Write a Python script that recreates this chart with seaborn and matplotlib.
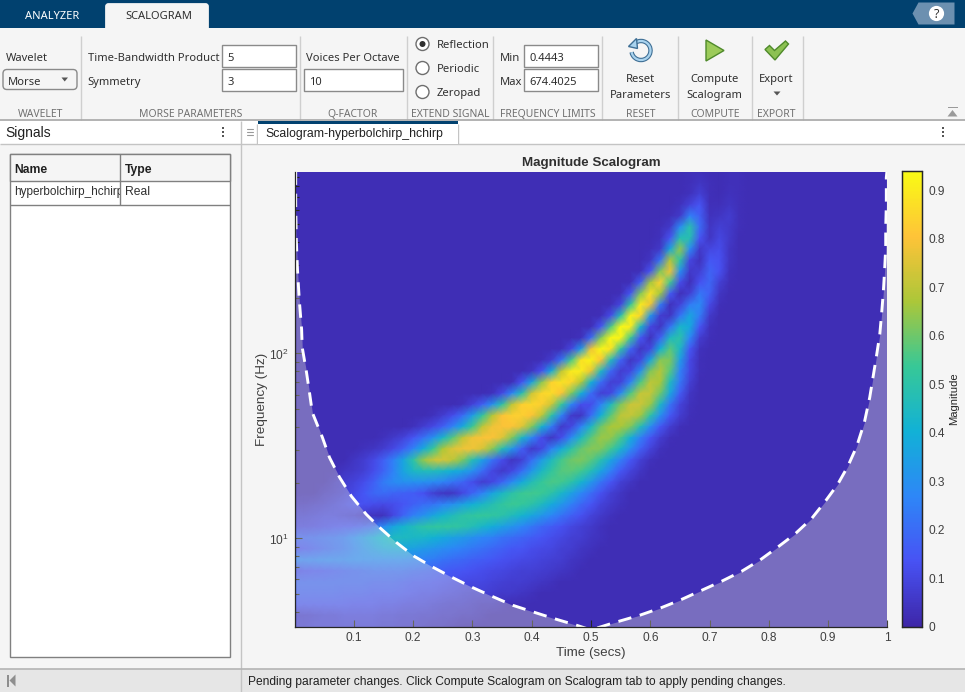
import numpy as np
import pandas as pd
import matplotlib
matplotlib.use('Agg')
import matplotlib.pyplot as plt
from matplotlib.colors import LinearSegmentedColormap
from matplotlib.patches import Rectangle, Polygon, Circle, FancyBboxPatch, Arc
from matplotlib.ticker import NullFormatter, FixedLocator
import seaborn as sns

sns.set_style('ticks')
plt.rcParams['font.family'] = ['Liberation Sans', 'DejaVu Sans']
plt.rcParams['mathtext.default'] = 'regular'

W, H = 965, 692

# axis ranges
freq_min = 3.34
freq_max = 964
background_mag = 0.025
mag_max = 0.94

x_tick_vals = [0.1, 0.2, 0.3, 0.4, 0.5, 0.6, 0.7, 0.8, 0.9, 1]
x_tick_labels = ['0.1', '0.2', '0.3', '0.4', '0.5', '0.6', '0.7', '0.8', '0.9', '1']
cbar_tick_vals = [0, 0.1, 0.2, 0.3, 0.4, 0.5, 0.6, 0.7, 0.8, 0.9]
cbar_tick_labels = ['0', '0.1', '0.2', '0.3', '0.4', '0.5', '0.6', '0.7', '0.8', '0.9']

# cone of influence
coi_time = [.002, .002, .003, .005, .008, .012, .013, .02, .025, .03, .047, .059, .076, .096,
            .121, .143, .172, .202, .233, .266, .3, .334, .368, .405, .442, .476, .5,
            .536, .582, .616, .649, .686, .72, .754, .784, .814, .843, .872, .894, .916,
            .933, .948, .961, .97, .981, .987, .99, .993, .995, .997, .997, .998, .998, .999]
coi_freq = [964, 638, 413, 284, 196, 135, 108, 80, 62.4, 48, 35.2, 27.4, 21.4, 16.9,
            13.5, 11.5, 9.5, 8.0, 7.0, 6.15, 5.43, 4.85, 4.35, 3.98, 3.65, 3.39, 3.2,
            3.48, 3.84, 4.19, 4.62, 5.23, 5.86, 6.64, 7.6, 8.93, 10.5, 12.8, 15.7, 19.6,
            24.5, 31.4, 42.4, 57.8, 95, 127, 163, 216, 277, 374, 480, 638, 893, 964]

# scalogram magnitudes estimated by eye, top row first: first column that
# differs from the background, then the values from there on
row_start = [40, 40, 40, 39, 38, 37, 37, 36, 36, 35, 34, 33, 32, 31, 30, 29, 27, 25, 24, 22, 20,
             17, 14, 12, 9, 7, 6, 5, 4, 3, 0, 0, 0, 0, 0, 0, 0, 0, 0, 0, 0, 0]
row_values = [
    [.03, .03, .025, .025, .03, .03],
    [.03, .05, .03, .025, .03, .03],
    [.04, .08, .03, .025, .04, .03],
    [.04, .09, .14, .03, .03, .05, .03],
    [.03, .06, .25, .17, .04, .05, .07, .03],
    [.03, .06, .28, .49, .2, .05, .08, .06, .03],
    [.04, .14, .48, .48, .14, .05, .1, .06],
    [.03, .06, .37, .64, .28, .06, .1, .12, .05],
    [.05, .22, .68, .51, .1, .04, .15, .13, .05],
    [.03, .14, .62, .78, .3, .06, .08, .18, .13, .04],
    [.03, .17, .66, .84, .55, .12, .03, .13, .19, .08, .03],
    [.03, .15, .62, .88, .66, .16, .03, .08, .23, .17, .05],
    [.03, .1, .52, .9, .78, .24, .04, .09, .24, .28, .11, .03],
    [.03, .12, .48, .92, .85, .32, .07, .05, .22, .37, .24, .06],
    [.03, .15, .56, .93, .9, .44, .1, .05, .22, .43, .38, .14, .04],
    [.04, .2, .62, .93, .92, .54, .15, .04, .17, .45, .5, .27, .07, .03],
    [.03, .1, .33, .78, .93, .88, .52, .18, .05, .1, .4, .58, .44, .15, .04],
    [.03, .07, .22, .55, .88, .92, .8, .47, .18, .05, .1, .36, .63, .62, .34, .11, .03],
    [.05, .13, .38, .7, .9, .9, .77, .45, .19, .07, .1, .3, .62, .69, .57, .26, .1, .03],
    [.03, .14, .36, .63, .84, .88, .85, .68, .41, .2, .08, .09, .26, .56, .7, .67, .45, .23, .08],
    [.04, .11, .27, .48, .72, .85, .86, .8, .62, .4, .2, .08, .1, .28, .56, .71, .71, .6, .37, .16, .05],
    [.04, .09, .17, .3, .5, .7, .83, .85, .83, .72, .53, .27, .12, .12, .26, .45, .62, .72, .72, .65, .44, .22, .09, .04],
    [.04, .07, .12, .2, .34, .52, .68, .8, .83, .83, .8, .7, .5, .26, .06, .05, .2, .4, .58, .7, .71, .66, .5, .3, .15, .07, .03],
    [.04, .07, .11, .17, .26, .38, .54, .7, .78, .8, .8, .75, .62, .42, .24, .06, .1, .26, .44, .6, .67, .67, .62, .47, .29, .15, .07, .03],
    [.04, .06, .09, .14, .21, .3, .43, .57, .7, .78, .8, .8, .75, .62, .44, .27, .12, .05, .12, .28, .45, .58, .65, .64, .56, .4, .25, .14, .07, .03],
    [.04, .05, .07, .11, .17, .26, .38, .53, .67, .75, .78, .78, .74, .63, .48, .32, .17, .06, .1, .25, .38, .5, .59, .63, .62, .55, .43, .29, .17, .09, .04],
    [.05, .07, .11, .17, .25, .36, .5, .64, .72, .74, .7, .62, .48, .35, .22, .12, .05, .08, .2, .33, .45, .55, .6, .62, .58, .49, .37, .25, .15, .08, .04],
    [.05, .06, .08, .12, .18, .26, .36, .44, .46, .46, .44, .4, .36, .3, .2, .1, .06, .1, .2, .32, .44, .52, .57, .58, .55, .47, .36, .25, .15, .09, .05],
    [.05, .07, .09, .12, .17, .24, .28, .3, .3, .3, .28, .26, .22, .18, .12, .07, .1, .18, .28, .38, .47, .53, .56, .55, .5, .42, .32, .22, .14, .08, .05],
    [.05, .06, .08, .11, .15, .19, .2, .18, .17, .16, .13, .08, .05, .05, .1, .18, .26, .36, .44, .5, .54, .55, .54, .5, .43, .35, .27, .2, .13, .08, .05],
    [.05, .05, .06, .07, .09, .11, .13, .13, .12, .11, .12, .14, .17, .2, .22, .26, .3, .35, .4, .44, .48, .52, .54, .53, .5, .45, .38, .32, .25, .19, .14, .09, .06, .04],
    [.08, .08, .09, .1, .1, .09, .08, .06, .04, .04, .1, .18, .25, .3, .36, .42, .46, .5, .52, .53, .52, .5, .46, .42, .37, .32, .27, .22, .17, .13, .09, .06, .04],
    [.1, .1, .11, .12, .13, .14, .15, .17, .2, .28, .36, .42, .46, .5, .52, .52, .52, .5, .47, .43, .39, .35, .31, .27, .23, .19, .16, .13, .1, .08, .06, .04],
    [.18, .18, .19, .2, .21, .23, .27, .31, .36, .41, .45, .45, .44, .43, .41, .38, .35, .33, .3, .27, .25, .22, .2, .18, .16, .14, .12, .1, .08, .07, .05, .04],
    [.13, .14, .16, .18, .2, .22, .25, .29, .32, .35, .36, .36, .35, .33, .31, .29, .27, .25, .23, .21, .19, .17, .15, .14, .12, .11, .1, .08, .07, .05, .04],
    [.25, .25, .25, .26, .26, .26, .27, .27, .27, .27, .27, .27, .26, .25, .24, .22, .2, .19, .17, .16, .15, .13, .12, .11, .1, .09, .08, .07, .05, .04],
    [.12, .13, .14, .15, .16, .17, .18, .19, .2, .2, .2, .2, .19, .18, .17, .16, .15, .14, .13, .12, .11, .1, .09, .08, .08, .07, .06, .05, .04],
    [.18, .18, .18, .18, .18, .18, .18, .18, .17, .17, .17, .16, .15, .15, .14, .13, .12, .11, .1, .1, .09, .08, .07, .07, .06, .05, .04],
    [.17, .17, .17, .17, .17, .16, .16, .16, .15, .15, .15, .14, .13, .12, .12, .11, .1, .09, .08, .08, .07, .06, .06, .05, .04],
    [.14, .14, .14, .14, .14, .14, .13, .13, .13, .12, .12, .11, .1, .1, .09, .08, .07, .07, .06, .05, .05, .04],
    [.07, .07, .08, .09, .09, .1, .1, .1, .1, .09, .09, .08, .08, .07, .07, .06, .06, .05, .05, .04],
    [.08, .08, .09, .09, .09, .09, .09, .09, .09, .08, .08, .07, .07, .06, .05, .05, .04],
]

mag = np.full((len(row_values), 61), background_mag)
for r, (start, vals) in enumerate(zip(row_start, row_values)):
    mag[r, start:start + len(vals)] = vals
scalogram = pd.DataFrame(mag)

parula = LinearSegmentedColormap.from_list('parula', [
    (0.2422, 0.1504, 0.6603), (0.2810, 0.3228, 0.9579), (0.1786, 0.5289, 0.9682),
    (0.0689, 0.6948, 0.8394), (0.2161, 0.7843, 0.5923), (0.6720, 0.7793, 0.2227),
    (0.9970, 0.7659, 0.2199), (0.9769, 0.9839, 0.0805)])


def px_axes(left, top, right, bottom, **kw):
    return fig.add_axes([left / W, 1 - bottom / H, (right - left) / W, (bottom - top) / H], **kw)


fig = plt.figure(figsize=(W / 100, H / 100), dpi=100, facecolor='#F5F5F5')

# app window drawn in pixel coordinates
ui = fig.add_axes([0, 0, 1, 1], zorder=0)
ui.set_xlim(0.5, W + 0.5)
ui.set_ylim(H + 0.5, 0.5)
ui.axis('off')

UI_FONT = ['Noto Sans', 'DejaVu Sans']
NAVY = '#01416F'
TEXT = '#303030'


def rect(x0, y0, x1, y1, fc='none', ec='none', lw=1.0, z=1):
    ui.add_patch(Rectangle((x0, y0), x1 - x0, y1 - y0, fc=fc, ec=ec, lw=lw, zorder=z))


def label(x, y, s, size=8.05, color=TEXT, ha='left', fam=None, **kw):
    # the toolstrip font sits a little high in its box
    dy = 2.1 if fam is None else 1.5
    return ui.text(x, y + dy, s, fontsize=size, color=color, ha=ha, va='center',
                   family=fam or UI_FONT, zorder=5, **kw)


def vline(x, y0, y1, color='#CFCFCF', lw=1.0):
    ui.plot([x, x], [y0, y1], color=color, lw=lw, zorder=2, solid_capstyle='butt')


def hline(y, x0, x1, color='#B8B8B8', lw=1.0):
    ui.plot([x0, x1], [y, y], color=color, lw=lw, zorder=2, solid_capstyle='butt')


def edit_box(x0, y0, x1, y1, s):
    rect(x0, y0, x1, y1, fc='white', ec='#8A8A8A', lw=1.0)
    label(x0 + 5, (y0 + y1) / 2 + 0.5, s)


def dots(x, y):
    ui.scatter([x, x, x], [y - 4, y, y + 4], s=3, color='#555555', marker='s', lw=0, zorder=5)


# top bar and tabs
rect(0, 0, W + 1, 28, fc=NAVY)
ui.add_patch(FancyBboxPatch((107, 5), 101, 30, boxstyle='round,pad=0,rounding_size=2', fc='#F5F5F5', ec='#F5F5F5', lw=2, zorder=2))
label(53, 14.5, 'ANALYZER', color='white', ha='center', size=8.0)
label(159, 14.5, 'SCALOGRAM', color='#303030', ha='center', size=8.0)
ui.add_patch(Polygon([(913, 14), (919, 3), (955, 3), (955, 25), (919, 25)], fc='#6C90B0', ec='none', zorder=2))
ui.add_patch(Circle((937, 14), 7.6, fc='white', ec='none', zorder=3))
label(937, 13, '?', color='#303030', ha='center', size=9, fontweight='bold')

# toolstrip
rect(0, 28, W + 1, 120, fc='#F5F5F5')
for x in [81.5, 300.5, 407.5, 493.5, 602.5, 678.5, 752, 803.5]:
    vline(x, 36, 120)
hline(120.5, 0, W + 1, color='#A8A8A8', lw=1.2)
for x, s in [(41, 'WAVELET'), (191, 'MORSE PARAMETERS'), (353, 'Q-FACTOR'), (451, 'EXTEND SIGNAL'),
             (548, 'FREQUENCY LIMITS'), (641, 'RESET'), (716, 'COMPUTE'), (777, 'EXPORT')]:
    label(x, 112.5, s, color='#717171', ha='center', size=7.5)

label(6, 57, 'Wavelet')
ui.add_patch(FancyBboxPatch((3.5, 70), 74, 20, boxstyle='round,pad=0,rounding_size=4', fc='#F5F5F5', ec='#8A8A8A', lw=1, zorder=2))
label(8, 80.5, 'Morse')
ui.add_patch(Polygon([(62, 78), (68.5, 78), (65.2, 82)], fc='#555555', ec='none', zorder=3))

label(88, 57, 'Time-Bandwidth Product')
label(88, 81, 'Symmetry')
edit_box(222.5, 45.5, 296.5, 67, '5')
edit_box(222.5, 69.5, 296.5, 91, '3')
label(307, 57, 'Voices Per Octave')
edit_box(304.5, 69.5, 403.5, 91, '10')

for y, s in [(44, 'Reflection'), (68, 'Periodic'), (92, 'Zeropad')]:
    ui.add_patch(Circle((423, y + 0.5), 6.5, fc='white', ec='#6E6E6E', lw=1, zorder=3))
    label(437, y, s)
ui.add_patch(Circle((423, 44.5), 3, fc='#303030', ec='none', zorder=4))

label(500.5, 57, 'Min')
label(500.5, 81, 'Max')
edit_box(524.5, 45.5, 598.5, 67, '0.4443')
edit_box(524.5, 69.5, 598.5, 91, '674.4025')

# reset, compute and export buttons
ui.add_patch(Arc((641.5, 51), 19, 19, theta1=-150, theta2=170, color='#3F6F95', lw=3.2, zorder=3))
ui.add_patch(Arc((641.5, 51), 19, 19, theta1=-150, theta2=170, color='#A9D3EE', lw=1.6, zorder=4))
ui.add_patch(Polygon([(629, 47), (637, 39), (638, 49)], fc='#A9D3EE', ec='#3F6F95', lw=1, zorder=5))
label(641, 77.5, 'Reset', ha='center')
label(641, 93.5, 'Parameters', ha='center')

ui.add_patch(Polygon([(706.5, 40.5), (724.5, 51), (706.5, 61.5)], fc='#9CCB5A', ec='#4F8A2B', lw=1, zorder=3))
label(715, 77.5, 'Compute', ha='center')
label(715, 93.5, 'Scalogram', ha='center')

ui.add_patch(Polygon([(765.5, 50), (770, 46), (775, 51), (786, 41.5), (789, 44.5), (775.5, 60.5)],
                     fc='#8CC152', ec='#4F8A2B', lw=1, zorder=3))
label(777, 77.5, 'Export', ha='center')
ui.add_patch(Polygon([(774, 92), (781, 92), (777.5, 96)], fc='#555555', ec='none', zorder=3))

rect(948, 107.5, 958, 108.5, fc='#9A9A9A', z=3)
ui.add_patch(Polygon([(948, 117), (958, 117), (953, 110.5)], fc='#9A9A9A', ec='none', zorder=3))

# panel headers
rect(0, 121, W + 1, 144, fc='white')
hline(144.5, 0, W + 1, color='#C4C4C4')
vline(241.5, 121, H + 1, color='#C4C4C4')
label(6, 132, 'Signals', size=10, fam=['Liberation Sans'], color='#202020')
dots(223, 132)
dots(943, 132)
ui.plot([247, 253], [129, 129], color='#999999', lw=.8, zorder=3)
ui.plot([247, 253], [132, 132], color='#999999', lw=.8, zorder=3)
ui.plot([247, 253], [135, 135], color='#999999', lw=.8, zorder=3)
rect(258, 121, 458, 144.5, fc='white', z=3)
rect(258, 121, 458, 124, fc=NAVY, z=4)
vline(458.5, 124, 144, color='#C4C4C4')
vline(257.5, 124, 144, color='#C4C4C4')
label(266, 133, 'Scalogram-hyperbolchirp_hchirp', size=8.8, fam=['Liberation Sans'], color='#202020')

# signals table
rect(10.5, 154.5, 230.5, 657.5, fc='white', ec='#808080')
rect(10.5, 154.5, 230.5, 181, fc='#F5F5F5', ec='#808080')
hline(205, 10.5, 230.5, color='#808080')
vline(120.5, 154.5, 205, color='#808080')
label(15, 168.5, 'Name', fam=['Liberation Sans'], fontweight='bold', size=8.7, color='#202020')
label(125, 168.5, 'Type', fam=['Liberation Sans'], fontweight='bold', size=8.7, color='#202020')
name_txt = label(14.5, 190.5, 'hyperbolchirp_hchirp', fam=['Liberation Sans'], size=8.5)
name_txt.set_clip_path(Rectangle((11, 182), 109, 22, transform=ui.transData))
name_txt.set_clip_on(True)
label(125, 190.5, 'Real', fam=['Liberation Sans'], size=8.7)

# status bar
rect(0, 669.5, W + 1, H + 1, fc='#E6E6E6')
hline(669.5, 0, W + 1, color='#B4B4B4', lw=1.2)
rect(7, 675, 9, 687, fc='#8E8E8E', z=3)
ui.add_patch(Polygon([(16, 675), (16, 687), (10, 681)], fc='#8E8E8E', ec='none', zorder=3))
label(249, 680.5, 'Pending parameter changes. Click Compute Scalogram on Scalogram tab to apply pending changes.',
      fam=['Liberation Sans'], size=8.65, color='#202020')

# scalogram
heat_ax = px_axes(294.5, 171.5, 887.5, 626.5, zorder=2)
cbar_ax = px_axes(902, 171, 922, 626.5, zorder=2)
sns.heatmap(scalogram, ax=heat_ax, cbar_ax=cbar_ax, cmap=parula, vmin=0, vmax=mag_max,
            xticklabels=False, yticklabels=False, shading='gouraud',
            rasterized=True)
heat_ax.set_xlim(0, 60)
heat_ax.set_ylim(41, 0)
heat_ax.set_xlabel('')
heat_ax.set_ylabel('')
heat_ax.tick_params(left=False, bottom=False)

# real time / log frequency axes on top of the mesh
ov = px_axes(294.5, 171.5, 887.5, 626.5, zorder=3)
ov.patch.set_alpha(0)
ov.set_xscale('linear')
ov.set_yscale('log')
ov.fill_between(coi_time, coi_freq, freq_min, color=(1, 1, 0.85), alpha=0.3, lw=0)
sns.lineplot(x=coi_time, y=coi_freq, ax=ov, sort=False, estimator=None, color='white',
             linewidth=2.1, linestyle=(0, (4.6, 3.0)))
ov.set_xlim(0, 1)
ov.set_ylim(freq_min, freq_max)
ov.set_xticks(x_tick_vals)
ov.set_xticklabels(x_tick_labels)
ov.yaxis.set_major_locator(FixedLocator([10, 100]))
ov.set_yticklabels(['$10^{1}$', '$10^{2}$'])
ov.yaxis.set_minor_locator(FixedLocator([m * 10 ** e for e in range(0, 3) for m in range(2, 10)]))
ov.yaxis.set_minor_formatter(NullFormatter())
ov.tick_params(axis='both', which='major', direction='in', length=5, width=0.8, color='#262626',
               labelcolor='#404040', labelsize=8.6, pad=4)
ov.tick_params(axis='y', which='minor', direction='in', length=3, width=0.8, color='#262626')
sns.despine(ax=ov)
for side in ['left', 'bottom']:
    ov.spines[side].set_linewidth(0.9)
    ov.spines[side].set_color('#262626')
ov.set_xlabel('Time (secs)', fontsize=9.6, color='#404040', labelpad=2)
ov.set_ylabel('Frequency (Hz)', fontsize=9.7, color='#404040', labelpad=1)
ov.set_title('Magnitude Scalogram', fontsize=9.6, fontweight='bold', color='#303030', pad=4)

# colorbar
cbar_ax.set_yticks(cbar_tick_vals)
cbar_ax.set_yticklabels(cbar_tick_labels)
cbar_ax.tick_params(axis='y', direction='in', length=2.5, width=0.8, color='#262626',
                    labelcolor='#404040', labelsize=8.6, pad=5, right=True)
for s in cbar_ax.spines.values():
    s.set_visible(True)
    s.set_linewidth(0.9)
    s.set_color('#262626')
ui.text(954.5, 399, 'Magnitude', rotation=90, ha='center', va='center', fontsize=8.1,
        color='#262626', zorder=5)

fig.savefig('out.png', dpi=100, facecolor=fig.get_facecolor())
